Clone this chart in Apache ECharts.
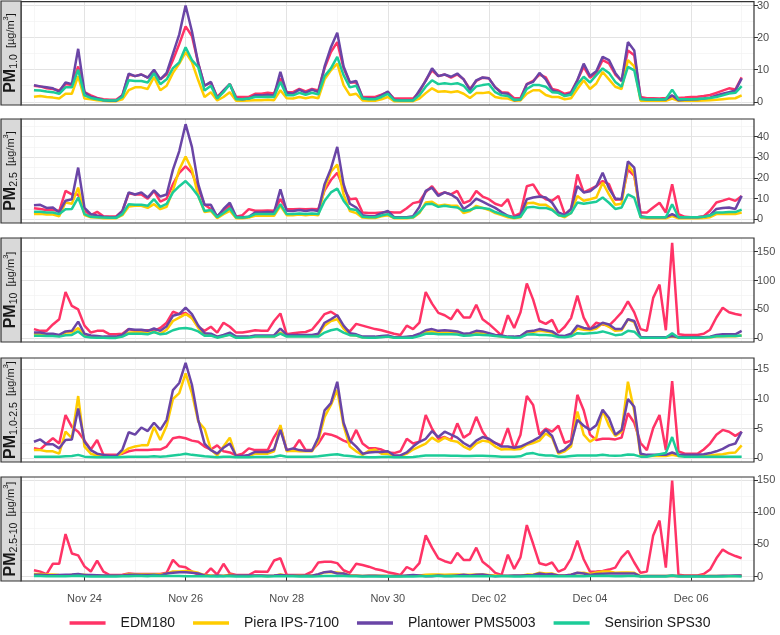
<!DOCTYPE html>
<html>
<head>
<meta charset="utf-8">
<script src="https://cdn.jsdelivr.net/npm/echarts@6/dist/echarts.min.js"></script>
<style>
  html, body { margin: 0; padding: 0; background: #fff; }
  #main { width: 780px; height: 635px; }
</style>
</head>
<body>
<div id="main"></div>
<script>
// 3-hourly readings, Nov 23 00:00 .. Dec 7 00:00 (113 points), one row per day
const sensors = ['EDM180', 'Piera IPS-7100', 'Plantower PMS5003', 'Sensirion SPS30']
const colors = ['#ff3366', '#ffcc00', '#6a45a6', '#1ccc98']

const pm1_edm = [
  5.0, 4.8, 4.2, 4.0, 3.5, 5.5, 5.2, 11,
  3.0, 2.0, 1.2, 0.8, 0.6, 0.6, 2.0, 8.5,
  8.0, 8.5, 7.5, 9.5, 7.0, 8.5, 13, 18,
  23.5, 20.5, 12, 5.0, 6.0, 1.5, 3.5, 5.5,
  1.5, 1.5, 1.5, 2.5, 2.5, 2.8, 2.6, 7.3,
  3.0, 3.0, 4.0, 3.2, 4.0, 3.5, 10.5, 15.5,
  18.6, 10.5, 6.0, 6.0, 1.5, 1.5, 1.5, 2.2,
  3.0, 1.0, 1.0, 1.0, 1.0, 3.0, 6.7, 9.8,
  8.0, 8.5, 7.5, 8.5, 7.0, 4.0, 6.5, 7.5,
  7.3, 4.5, 3.0, 2.8, 1.1, 1.2, 5.5, 6.5,
  8.5, 7.6, 4.0, 3.5, 2.5, 3.0, 6.7, 10.9,
  7.5, 9.0, 13, 12, 8.5, 6.5, 16, 14.5,
  1.5, 1.1, 1.1, 1.0, 1.2, 1.8, 1.2, 1.3,
  1.5, 1.6, 1.8, 2.1, 2.8, 3.5, 4.2, 3.8,
  7.6]
const pm1_piera = [
  1.6, 1.8, 1.5, 1.3, 1.0, 2.5, 2.5, 8,
  1.0, 0.8, 0.5, 0.3, 0.2, 0.2, 0.8, 3.6,
  4.5, 4.5, 4.0, 7.7, 3.6, 5.0, 9, 11.9,
  15.5, 12.4, 6.7, 1.5, 3.0, 0.4, 1.5, 3.0,
  0.3, 0.3, 0.4, 0.5, 0.5, 0.6, 0.5, 3.6,
  1.1, 1.0, 1.5, 1.1, 1.5, 1.1, 7, 9.8,
  11.9, 5.2, 2.1, 2.5, 0.4, 0.3, 0.3, 0.8,
  1.5, 0.2, 0.2, 0.2, 0.2, 1.0, 2.7, 4.2,
  3.1, 3.3, 3.0, 3.3, 2.5, 1.2, 2.7, 2.7,
  3.0, 1.5, 1.1, 1.0, 0.3, 0.4, 2.5, 3.6,
  3.6, 2.1, 1.5, 1.5, 0.8, 1.1, 4.0, 6.7,
  4.0, 5.7, 9.3, 7.0, 4.7, 4.0, 13, 11,
  0.3, 0.3, 0.3, 0.3, 0.3, 1.0, 0.3, 0.3,
  0.3, 0.3, 0.4, 0.5, 0.6, 0.8, 1.0, 1.1,
  2.0]
const pm1_plantower = [
  5.2, 4.8, 4.5, 4.2, 3.2, 6.0, 5.5, 16.5,
  3.0, 1.5, 1.0, 0.5, 0.3, 0.3, 2.0, 8.8,
  8.0, 8.5, 7.5, 10.0, 7.0, 9.0, 15, 21,
  30, 22, 12, 5, 6.2, 1.2, 3.5, 5.5,
  1.0, 0.8, 1.0, 2.0, 2.0, 2.2, 2.0, 9.3,
  2.8, 2.5, 3.8, 2.8, 3.8, 3.0, 11, 17,
  21.5, 11, 6.0, 6.5, 1.2, 1.0, 1.0, 2.0,
  3.2, 0.6, 0.5, 0.5, 0.5, 3.5, 6.5, 10.4,
  8.0, 8.5, 7.8, 8.8, 7.0, 3.6, 6.7, 7.6,
  7.3, 4.5, 2.7, 2.5, 0.5, 0.7, 5.5, 6.2,
  9.0, 7.0, 3.6, 3.0, 2.0, 2.7, 6.7, 11.9,
  8.0, 9.5, 14, 13, 9.0, 6.5, 18.6, 16,
  1.0, 0.7, 0.7, 0.7, 0.7, 2.0, 0.5, 0.6,
  0.7, 0.8, 1.0, 1.3, 2.0, 2.5, 3.0, 3.5,
  7.3]
const pm1_sensirion = [
  3.6, 3.5, 3.2, 3.0, 2.5, 4.5, 4.5, 10,
  2.0, 1.2, 0.8, 0.5, 0.4, 0.4, 1.5, 6.7,
  6.5, 6.5, 6.0, 8.9, 5.5, 7.0, 10.5, 12.3,
  17, 13, 10.8, 3.5, 5.0, 1.0, 3.0, 5.5,
  0.8, 0.8, 1.0, 1.5, 1.5, 1.6, 1.5, 6.2,
  2.0, 2.0, 2.8, 2.2, 2.8, 2.3, 8, 10.4,
  14, 8.3, 4.5, 5.0, 1.0, 0.8, 0.8, 1.5,
  2.5, 0.5, 0.4, 0.4, 0.4, 2.0, 4.7, 6.7,
  5.5, 5.8, 5.5, 5.8, 5.0, 2.8, 4.8, 5.2,
  5.5, 3.0, 2.0, 1.8, 0.6, 0.7, 4.0, 5.2,
  5.2, 4.7, 3.0, 2.8, 1.8, 2.2, 5.5, 7.8,
  6.0, 8.3, 10.4, 9.0, 6.2, 4.7, 10.9, 9.8,
  0.8, 0.7, 0.7, 0.7, 0.8, 3.8, 0.8, 0.8,
  0.8, 0.9, 1.0, 1.2, 1.5, 2.0, 2.6, 2.8,
  4.9]

const pm25_edm = [
  5.3, 5.0, 4.5, 4.5, 4.0, 13.7, 12, 12,
  4.1, 2.0, 3.6, 1.4, 1.4, 1.4, 4.0, 12.6,
  12, 12, 10, 13.7, 8.5, 10, 17, 22.5,
  25.6, 22.5, 15, 7, 5, 1.5, 4.0, 6.5,
  1.2, 2.0, 4.9, 4.1, 4.1, 4.3, 4.1, 9.7,
  4.9, 4.9, 5.0, 4.9, 5.0, 4.9, 14, 19,
  22.5, 15, 9.7, 10, 3.3, 3.0, 3.0, 3.3,
  3.5, 3.3, 3.3, 5.3, 7.8, 8.5, 13.2, 16,
  12, 13, 12, 13.7, 7.8, 9.0, 13.7, 11.0,
  9.7, 7.5, 6.5, 9.7, 1.5, 3.0, 16, 16.9,
  12, 9.7, 9.0, 11.3, 2.5, 4.9, 21.7, 13,
  14.5, 16, 18.5, 17, 9.5, 9.7, 24, 21,
  3.3, 3.3, 5.7, 8.0, 3.3, 16.9, 2.5, 1.2,
  1.0, 1.0, 1.5, 4.1, 8.1, 9.0, 10, 8.9,
  11.3]
const pm25_piera = [
  2.5, 2.7, 2.3, 2.3, 1.5, 8.1, 7.5, 15.3,
  2.0, 1.0, 0.8, 0.5, 0.5, 0.5, 2.0, 6.2,
  6.5, 6.5, 5.5, 7.3, 4.9, 6.0, 14, 24,
  30.4, 24, 11.3, 3.5, 4.0, 0.5, 2.5, 4.1,
  0.5, 0.5, 0.8, 1.7, 1.7, 1.8, 1.7, 6.5,
  2.0, 2.0, 2.3, 2.0, 2.3, 2.0, 15, 23,
  26.5, 12, 4.0, 3.0, 0.8, 0.6, 0.6, 1.5,
  2.0, 0.5, 0.5, 0.5, 0.8, 3.0, 8.1, 8.5,
  6.5, 7.0, 6.5, 6.5, 3.0, 4.0, 6.5, 5.5,
  4.5, 3.0, 2.0, 1.0, 0.5, 1.0, 7.8, 8.0,
  7.0, 7.0, 5.0, 2.0, 1.0, 3.0, 11.3, 9.0,
  9.7, 10.5, 17.7, 12, 7.0, 7.5, 26.4, 22,
  0.8, 0.5, 0.5, 0.5, 0.5, 1.5, 0.5, 0.5,
  0.5, 0.5, 0.6, 1.0, 2.5, 2.5, 2.5, 2.5,
  3.3]
const pm25_plantower = [
  6.8, 7.0, 5.5, 5.7, 3.3, 9.0, 9.7, 25,
  5.5, 2.5, 1.8, 1.2, 1.0, 1.0, 4.0, 13.0,
  12.0, 13.0, 10.5, 14.0, 11.0, 12.0, 24, 33,
  46, 35, 17, 7.0, 7.0, 1.2, 5.0, 8.0,
  1.2, 1.0, 1.2, 3.3, 3.3, 3.5, 3.3, 14.5,
  4.1, 4.0, 4.5, 4.0, 4.5, 4.0, 17, 24.5,
  35, 17, 7.5, 5.7, 2.0, 1.5, 1.5, 3.0,
  4.0, 1.0, 1.0, 1.0, 1.5, 6.0, 13.7, 15.3,
  11.3, 13.0, 12.0, 10.0, 5.0, 7.0, 10.0, 8.5,
  7.0, 5.5, 3.5, 1.7, 1.0, 2.0, 9.7, 10.5,
  11.0, 10.5, 8.0, 3.3, 2.0, 5.0, 16, 13,
  13.5, 16, 22.5, 15, 10, 9.7, 28, 25,
  1.5, 1.0, 1.0, 1.0, 1.0, 2.5, 1.0, 1.0,
  1.0, 1.0, 1.2, 2.0, 5.0, 5.5, 5.7, 5.0,
  11.3]
const pm25_sensirion = [
  3.6, 3.6, 3.3, 3.3, 2.5, 4.9, 5.0, 10.5,
  2.5, 1.2, 1.0, 0.8, 0.7, 0.7, 2.5, 7.3,
  7.0, 7.0, 6.5, 9.7, 6.0, 7.5, 13, 16,
  18.5, 15.3, 11.3, 4.0, 4.5, 1.0, 3.0, 5.3,
  0.8, 0.8, 1.2, 2.5, 2.5, 2.6, 2.5, 7.3,
  2.5, 2.5, 2.8, 2.5, 2.8, 2.5, 9, 13,
  14.8, 9, 5, 4.5, 1.2, 1.0, 1.0, 1.8,
  2.5, 0.7, 0.7, 0.7, 1.0, 3.5, 7.3, 7.5,
  6.0, 6.5, 6.0, 5.7, 4.0, 4.5, 5.7, 5.5,
  5.0, 3.5, 2.5, 1.5, 0.7, 1.2, 5.7, 6.0,
  5.5, 5.5, 4.5, 2.0, 1.5, 3.0, 8.1, 7.5,
  8.0, 8.5, 10.5, 8.0, 5.0, 5.7, 12, 10.5,
  1.0, 1.0, 1.0, 1.0, 1.0, 7.3, 1.0, 1.0,
  1.0, 1.0, 1.2, 1.8, 3.3, 3.3, 3.5, 3.5,
  4.7]

const pm10_edm = [
  16, 13, 13, 24, 33, 80, 56, 50,
  22, 10, 13, 13, 7, 7, 8, 16,
  13, 13, 14, 13, 18, 27, 46, 42,
  44, 36, 20, 13, 20, 10, 27, 20,
  10, 10, 12, 14, 13, 13, 30, 43,
  7, 9, 10, 11, 15, 28, 42, 46,
  39, 18, 12, 25, 22, 19, 16, 14,
  11, 8, 5.7, 22, 16, 27, 80, 60,
  44, 40, 33, 50, 36, 36, 58, 33,
  25, 15, 5, 40, 18, 45, 95, 67,
  30, 25, 32, 10, 20, 35, 74, 36,
  16, 27, 24, 22, 33, 45, 64, 45,
  16, 13, 70, 93, 14, 165, 7, 5.7,
  5.7, 5.7, 8, 15, 36, 53, 45, 42,
  40]
const pm10_piera = [
  7, 7, 6, 6, 4, 10, 10, 18,
  5, 3, 2, 2, 2, 2, 4, 10,
  10, 10, 9, 11, 8, 15, 30, 36,
  42, 35, 18, 6, 6, 2, 4, 7,
  2, 2, 2, 3, 3, 3, 3, 10,
  4, 4, 4, 4, 4, 6, 22, 30,
  33, 17, 6, 5, 2, 2, 2, 3,
  3, 1.5, 1.5, 2, 3, 5, 11, 12,
  10, 10, 10, 10, 6, 7, 10, 9,
  7, 5, 3, 2, 2, 3, 11, 11,
  13, 12, 10, 4, 3, 6, 17, 15,
  14, 17, 26, 20, 13, 14, 33, 28,
  1.5, 1.5, 1.5, 1.5, 1.5, 3, 1.5, 1.5,
  1.5, 1.5, 1.5, 2, 3, 3.5, 3.5, 3.5,
  5]
const pm10_plantower = [
  10, 10, 8, 8, 6, 12, 13, 29,
  8, 5, 4, 3, 3, 3, 6, 16,
  15, 15, 13, 17, 13, 21, 39, 42,
  53, 42, 22, 9, 8, 3, 6, 10,
  3, 3, 3, 5, 5, 5, 5, 17,
  6, 6, 6, 6, 6, 8, 27, 33,
  40, 22, 9, 7, 3, 3, 3, 4,
  5, 2, 2, 3, 4, 8, 14, 16,
  13, 14, 13, 12, 8, 9, 13, 12,
  9, 6, 5, 3, 3, 4, 12, 13,
  16, 14, 12, 5, 4, 8, 22, 18,
  16, 20, 27, 24, 16, 16, 33, 30,
  2, 2, 2, 2, 2, 4, 2, 2,
  2, 2, 2, 3, 6, 7, 7, 7,
  13]
const pm10_sensirion = [
  4.5, 4.5, 4, 4, 3, 5.5, 6, 12,
  3, 1.5, 1.2, 1, 0.8, 0.8, 3, 8,
  8, 8, 7, 11, 7, 8.5, 14, 17,
  18, 16, 12, 4.5, 5, 1.2, 3.5, 6,
  1, 1, 1.5, 3, 3, 3, 3, 8,
  3, 3, 3, 3, 3, 3, 10, 14,
  16, 10, 5.5, 5, 1.5, 1.2, 1.2, 2,
  3, 1, 1, 1, 1.2, 4, 8, 8.5,
  7, 7, 7, 6.5, 4.5, 5, 6.5, 6,
  5.5, 4, 3, 2, 1, 1.5, 6.5, 7,
  6, 6, 5, 2.5, 2, 3.5, 9, 8,
  9, 9.5, 12, 9, 5.5, 6.5, 13, 11.5,
  1.2, 1.2, 1.2, 1.2, 1.2, 9, 1.2, 1.2,
  1.2, 1.2, 1.5, 2, 3.5, 3.5, 4, 4,
  5]

const pm1to25_edm = [
  1.7, 1.5, 2.5, 3.4, 2.5, 7.3, 5.3, 4.5,
  3.0, 1.5, 3.1, 0.6, 0.6, 0.6, 0.8, 1.2,
  1.4, 1.4, 1.4, 1.5, 1.5, 2.0, 3.4, 3.6,
  3.4, 3.0, 2.8, 2.0, 1.5, 2.2, 1.2, 1.0,
  0.5, 0.8, 1.7, 1.4, 1.4, 1.4, 3.6, 5.3,
  1.4, 1.5, 3.1, 1.4, 1.4, 2.5, 4.2, 4.0,
  3.6, 3.0, 2.6, 4.8, 2.5, 1.7, 1.7, 1.5,
  1.0, 0.9, 1.2, 3.3, 2.5, 2.8, 7.3, 5.0,
  3.3, 3.6, 3.1, 5.9, 3.5, 4.2, 7.0, 4.5,
  3.0, 2.6, 2.2, 5.1, 1.5, 4.0, 10.5, 9.0,
  4.0, 5.0, 4.5, 5.5, 2.6, 3.0, 10.7, 8.1,
  4.0, 3.1, 3.3, 3.3, 3.2, 3.5, 7.6, 6.0,
  2.6, 1.4, 5.1, 7.3, 1.4, 13, 1.2, 0.8,
  0.8, 0.8, 1.5, 2.5, 4.0, 4.8, 4.5, 3.8,
  4.5]
const pm1to25_piera = [
  1.4, 1.4, 1.2, 1.2, 0.8, 4.5, 3.4, 10.5,
  2.0, 0.8, 0.5, 0.4, 0.3, 0.3, 1.0, 1.7,
  2.0, 2.2, 2.2, 5.3, 3.1, 5.5, 10, 11,
  14.3, 11, 6.2, 5, 1.5, 0.5, 2.0, 3.5,
  0.3, 0.3, 0.4, 0.8, 0.8, 0.8, 1.2, 5.6,
  1.2, 1.3, 1.2, 1.2, 1.2, 3.0, 7.0, 9.0,
  11.5, 5.5, 2.0, 1.2, 0.6, 1.3, 1.5, 0.8,
  0.8, 0.4, 0.4, 0.8, 1.5, 2.0, 2.5, 3.5,
  2.8, 3.5, 3.0, 2.8, 2.0, 1.5, 2.5, 3.0,
  2.8, 2.0, 1.5, 1.6, 1.5, 1.6, 2.3, 2.6,
  3.0, 4.2, 3.5, 0.8, 1.2, 2.0, 7.9, 4.0,
  2.8, 3.5, 8.1, 5.5, 3.8, 4.5, 12.9, 8.0,
  0.5, 0.4, 0.4, 0.4, 0.4, 0.6, 0.4, 0.4,
  0.4, 0.4, 0.4, 0.5, 0.6, 0.7, 0.9, 1.0,
  2.2]
const pm1to25_plantower = [
  2.8, 3.2, 2.4, 2.4, 1.7, 3.1, 3.2, 8.4,
  2.8, 1.4, 0.8, 0.6, 0.4, 0.4, 1.5, 4.4,
  4.0, 5.2, 4.6, 6.0, 4.8, 6.5, 11.5, 12.7,
  16.1, 12.4, 6.5, 2.5, 1.4, 0.8, 1.8, 2.5,
  0.4, 0.4, 0.6, 1.1, 1.1, 1.1, 1.5, 4.8,
  1.4, 1.7, 1.4, 1.3, 1.3, 3.5, 8.1, 9.3,
  12.9, 6.0, 3.0, 2.0, 0.8, 1.0, 1.1, 1.1,
  1.2, 0.5, 0.5, 1.0, 2.0, 2.8, 3.3, 4.6,
  3.6, 4.5, 4.0, 3.5, 2.6, 2.0, 3.0, 3.6,
  3.3, 2.6, 2.0, 2.0, 1.8, 2.0, 2.5, 3.0,
  3.6, 4.8, 3.8, 1.0, 1.5, 2.5, 6.5, 5.5,
  4.8, 5.6, 8.2, 6.8, 4.0, 4.8, 10.0, 8.7,
  0.8, 0.6, 0.6, 0.6, 0.6, 1.0, 0.6, 0.6,
  0.6, 0.6, 0.7, 0.9, 1.2, 1.6, 2.2, 2.5,
  4.5]
const pm1to25_sensirion = [
  0.3, 0.3, 0.3, 0.3, 0.3, 0.35, 0.4, 0.6,
  0.3, 0.25, 0.2, 0.2, 0.2, 0.2, 0.25, 0.3,
  0.3, 0.3, 0.3, 0.35, 0.3, 0.35, 0.5, 0.6,
  0.8, 0.6, 0.5, 0.35, 0.3, 0.2, 0.3, 0.3,
  0.2, 0.2, 0.2, 0.25, 0.25, 0.25, 0.3, 0.5,
  0.3, 0.3, 0.3, 0.3, 0.3, 0.35, 0.5, 0.6,
  0.7, 0.5, 0.4, 0.3, 0.25, 0.2, 0.2, 0.25,
  0.3, 0.2, 0.2, 0.2, 0.25, 0.35, 0.5, 0.5,
  0.5, 0.5, 0.45, 0.45, 0.4, 0.4, 0.45, 0.45,
  0.4, 0.35, 0.3, 0.3, 0.3, 0.35, 0.8, 0.9,
  0.6, 0.5, 0.5, 0.3, 0.3, 0.4, 0.5, 0.5,
  0.5, 0.5, 0.6, 0.5, 0.45, 0.5, 0.65, 0.6,
  0.3, 0.3, 0.5, 0.7, 0.9, 3.6, 0.4, 0.3,
  0.3, 0.3, 0.3, 0.3, 0.3, 0.3, 0.3, 0.3,
  0.3]

const pm25to10_edm = [
  10, 7.8, 4, 20, 20, 66, 36, 33,
  16, 8, 25, 7.8, 2.6, 2.6, 3, 5,
  4, 4, 4, 4, 4, 6, 26, 16,
  14.5, 7.8, 3, 2.6, 13, 3, 20, 5,
  2.6, 2.6, 2.6, 8, 7.8, 7.8, 25, 28.5,
  3, 2.6, 2.6, 3, 7.8, 22, 23, 23,
  21, 10, 6, 20, 18, 15.5, 12, 10,
  7, 5, 2.6, 15, 10, 21, 64, 45,
  28.5, 24, 21, 37, 26, 26, 45, 23,
  15.5, 6, 2.6, 34, 12, 30, 80, 51,
  20.7, 18, 22, 7.8, 12, 28, 56, 27,
  7.8, 8, 9, 11, 14, 30, 40, 22,
  6, 7.8, 64, 87, 14, 149, 3, 2,
  2, 2, 4, 11, 28.5, 42, 36, 32,
  28.5]
const pm25to10_piera = [
  4, 4, 3.5, 3.5, 2.5, 2, 2.5, 3,
  3, 2, 1.5, 1.5, 1.5, 1.5, 2, 4,
  3.5, 3.5, 3.5, 3.7, 3, 5, 8, 8,
  9, 8, 6, 2.5, 2, 1.5, 1.5, 3,
  1.7, 1.5, 1.2, 1.3, 1.3, 1.2, 1.3, 3.5,
  2, 2, 1.7, 2, 1.7, 3, 7, 7,
  6.5, 5, 2, 2, 1.2, 1.4, 1.4, 1.5,
  1, 1, 1, 1.5, 2.2, 2, 3, 3.5,
  3.5, 3, 3.5, 3.5, 3, 3, 3.5, 3.5,
  2.5, 2, 1.5, 1, 1.5, 1.4, 3.2, 3,
  6, 5, 5, 2, 1.8, 3, 5.7, 6,
  4, 6.5, 8, 8, 6, 6.5, 6.6, 6,
  1, 1, 1, 1, 1, 1.5, 1, 1,
  1, 1, 1, 1, 1, 1, 1, 1,
  1.7]
const pm25to10_plantower = [
  3, 3, 2.5, 2.3, 2.7, 3, 3.3, 4,
  2.5, 2.5, 2.2, 1.8, 2, 2, 2, 3,
  3, 2.5, 2.5, 3, 2, 5, 6, 7,
  7, 6, 5, 2, 1, 1.8, 1, 2,
  1.8, 2, 1.8, 1.7, 1.7, 1.5, 1.7, 2.5,
  1.9, 2, 1.5, 2, 1.5, 4, 7, 8,
  5, 5, 1.5, 1.3, 1, 1.5, 1.5, 1,
  1, 1, 1, 2, 2.5, 2, 0.5, 0.7,
  1.7, 1, 1, 2, 3, 2, 3, 3.5,
  2, 0.5, 1.5, 1.3, 2, 2, 2.3, 2.5,
  5, 3.5, 4, 1.7, 2, 3, 6, 5,
  2.5, 4, 4.5, 5, 5, 5, 5, 5,
  0.5, 1, 1, 1, 1, 1.5, 1, 1,
  1, 1, 0.8, 1, 1, 1.5, 1.3, 2,
  1.7]
const pm25to10_sensirion = [
  0.9, 0.9, 0.7, 0.7, 0.5, 0.6, 1, 1.5,
  0.5, 0.3, 0.2, 0.2, 0.1, 0.1, 0.5, 0.7,
  1, 1, 0.5, 1.3, 1, 1, 1, 1,
  0.5, 0.7, 0.7, 0.5, 0.5, 0.2, 0.5, 0.7,
  0.2, 0.2, 0.3, 0.5, 0.5, 0.4, 0.5, 0.7,
  0.5, 0.5, 0.2, 0.5, 0.2, 0.5, 1, 1,
  1.2, 1, 0.5, 0.5, 0.3, 0.2, 0.2, 0.2,
  0.5, 0.3, 0.3, 0.3, 0.2, 0.5, 0.7, 1,
  1, 0.5, 1, 0.8, 0.5, 0.5, 0.8, 0.5,
  0.5, 0.5, 0.5, 0.5, 0.3, 0.3, 0.8, 1,
  0.5, 0.5, 0.5, 0.5, 0.5, 0.5, 0.9, 0.5,
  1, 1, 1.5, 1, 0.5, 0.8, 1, 1,
  0.2, 0.2, 0.2, 0.2, 0.2, 1.7, 0.2, 0.2,
  0.2, 0.2, 0.3, 0.2, 0.2, 0.2, 0.5, 0.5,
  0.3]

// panel labels and y ticks
const panelSubs = ['1.0', '2.5', '10', '1.0-2.5', '2.5-10']
const yMajor = [[0, 10, 20, 30], [0, 10, 20, 30, 40], [0, 50, 100, 150], [0, 5, 10, 15], [0, 50, 100, 150]]
const yMinor = [[5, 15, 25], [5, 15, 25, 35, 45], [25, 75, 125], [2.5, 7.5, 12.5], [25, 75, 125]]
const xTickLabels = ['Nov 24', 'Nov 26', 'Nov 28', 'Nov 30', 'Dec 02', 'Dec 04', 'Dec 06']

const panels = [
  [pm1_edm, pm1_piera, pm1_plantower, pm1_sensirion],
  [pm25_edm, pm25_piera, pm25_plantower, pm25_sensirion],
  [pm10_edm, pm10_piera, pm10_plantower, pm10_sensirion],
  [pm1to25_edm, pm1to25_piera, pm1to25_plantower, pm1to25_sensirion],
  [pm25to10_edm, pm25to10_piera, pm25to10_plantower, pm25to10_sensirion]
]

const DAY = 24 * 3600 * 1000
const t0 = Date.UTC(2021, 10, 23)
const times = pm1_edm.map((v, i) => t0 + i * DAY / 8)
const xMajor = xTickLabels.map((s, i) => t0 + (1 + 2 * i) * DAY)
const xMinor = [0, 2, 4, 6, 8, 10, 12, 14].map(d => t0 + d * DAY)
const xMin = t0 - 0.256 * DAY
const xMax = t0 + 14.244 * DAY

// plot area layout (pixels)
const tops = [1, 119, 238, 358, 477]
const ph = 104
const yRange = [[-1.0, 31.2], [-1.8, 48.5], [-6.3, 173.5], [-0.6, 16.9], [-6.7, 154.5]]

const font = 'Liberation Sans, Arial, sans-serif'
const grids = [], xAxes = [], yAxes = [], series = [], graphics = []

tops.forEach((top, p) => {
  grids.push({left: 21, right: 26, top: top, height: ph, show: true,
    borderColor: '#333', borderWidth: 1.2, backgroundColor: 'transparent', z: 3})
  const last = p === tops.length - 1
  // major x
  xAxes.push({
    type: 'value', gridIndex: p, min: xMin, max: xMax,
    axisLine: {show: false},
    axisTick: {show: last, length: 4, lineStyle: {color: '#333'}, customValues: xMajor},
    axisLabel: {show: last, customValues: xMajor, color: '#4d4d4d', fontSize: 11, margin: 12,
      fontFamily: font, formatter: v => xTickLabels[xMajor.indexOf(v)] || ''},
    splitLine: {show: true, lineStyle: {color: '#e3e3e3', width: 1}}
  })
  // minor x
  xAxes.push({
    type: 'value', gridIndex: p, min: xMin, max: xMax,
    axisLine: {show: false}, axisLabel: {show: false},
    axisTick: {show: false, customValues: xMinor},
    splitLine: {show: true, lineStyle: {color: '#f0f0f0', width: 0.6}}
  })
  yAxes.push({
    type: 'value', gridIndex: p, position: 'right', min: yRange[p][0], max: yRange[p][1],
    axisLine: {show: false},
    axisTick: {show: true, length: 4, lineStyle: {color: '#333'}, customValues: yMajor[p]},
    axisLabel: {show: true, customValues: yMajor[p], color: '#4d4d4d', fontSize: 11, margin: 3, fontFamily: font},
    splitLine: {show: true, lineStyle: {color: '#e3e3e3', width: 1}}
  })
  yAxes.push({
    type: 'value', gridIndex: p, position: 'right', min: yRange[p][0], max: yRange[p][1],
    axisLine: {show: false}, axisLabel: {show: false},
    axisTick: {show: false, customValues: yMinor[p]},
    splitLine: {show: true, lineStyle: {color: '#f0f0f0', width: 0.6}}
  })
  panels[p].forEach((arr, s) => {
    series.push({
      type: 'line', name: sensors[s], xAxisIndex: p * 2, yAxisIndex: p * 2,
      data: times.map((t, i) => [t, arr[i]]),
      showSymbol: false, symbol: 'none',
      lineStyle: {color: colors[s], width: 2.5},
      itemStyle: {color: colors[s]},
      emphasis: {disabled: true},
      z: 4 + s
    })
  })
  // facet strip on the left
  graphics.push({
    type: 'rect', shape: {x: 1, y: top, width: 20, height: ph},
    style: {fill: '#d9d9d9', stroke: '#333', lineWidth: 1.2}, z: 10
  })
  graphics.push({
    type: 'text', x: 11, y: top + ph / 2, rotation: Math.PI / 2, z: 11,
    style: {
      text: '{pm|PM}{sub|' + panelSubs[p] + '}  {u|[µg/m}{sup|3}{u|]}',
      align: 'center', verticalAlign: 'middle', fill: '#1a1a1a', fontFamily: font, fontSize: 11,
      rich: {
        pm: {fontSize: 16, fontWeight: 'bold', fontFamily: font, fill: '#1a1a1a', lineHeight: 18},
        sub: {fontSize: 10.5, fontFamily: font, fill: '#1a1a1a', verticalAlign: 'bottom', lineHeight: 9},
        u: {fontSize: 11, fontFamily: font, fill: '#1a1a1a', lineHeight: 14},
        sup: {fontSize: 7.5, fontFamily: font, fill: '#1a1a1a', verticalAlign: 'top', lineHeight: 14}
      }
    }
  })
})

const chart = echarts.init(document.getElementById('main'), null, {renderer: 'canvas'})
chart.setOption({
  animation: false,
  textStyle: {fontFamily: font},
  grid: grids,
  xAxis: xAxes,
  yAxis: yAxes,
  series: series,
  legend: {
    data: sensors, top: 611, left: 'center', icon: 'rect',
    itemWidth: 36, itemHeight: 3.5, itemGap: 18,
    textStyle: {fontSize: 14, color: '#1a1a1a', fontFamily: font, padding: [0, 0, 0, 10]}
  },
  graphic: graphics
})
</script>
</body>
</html>
